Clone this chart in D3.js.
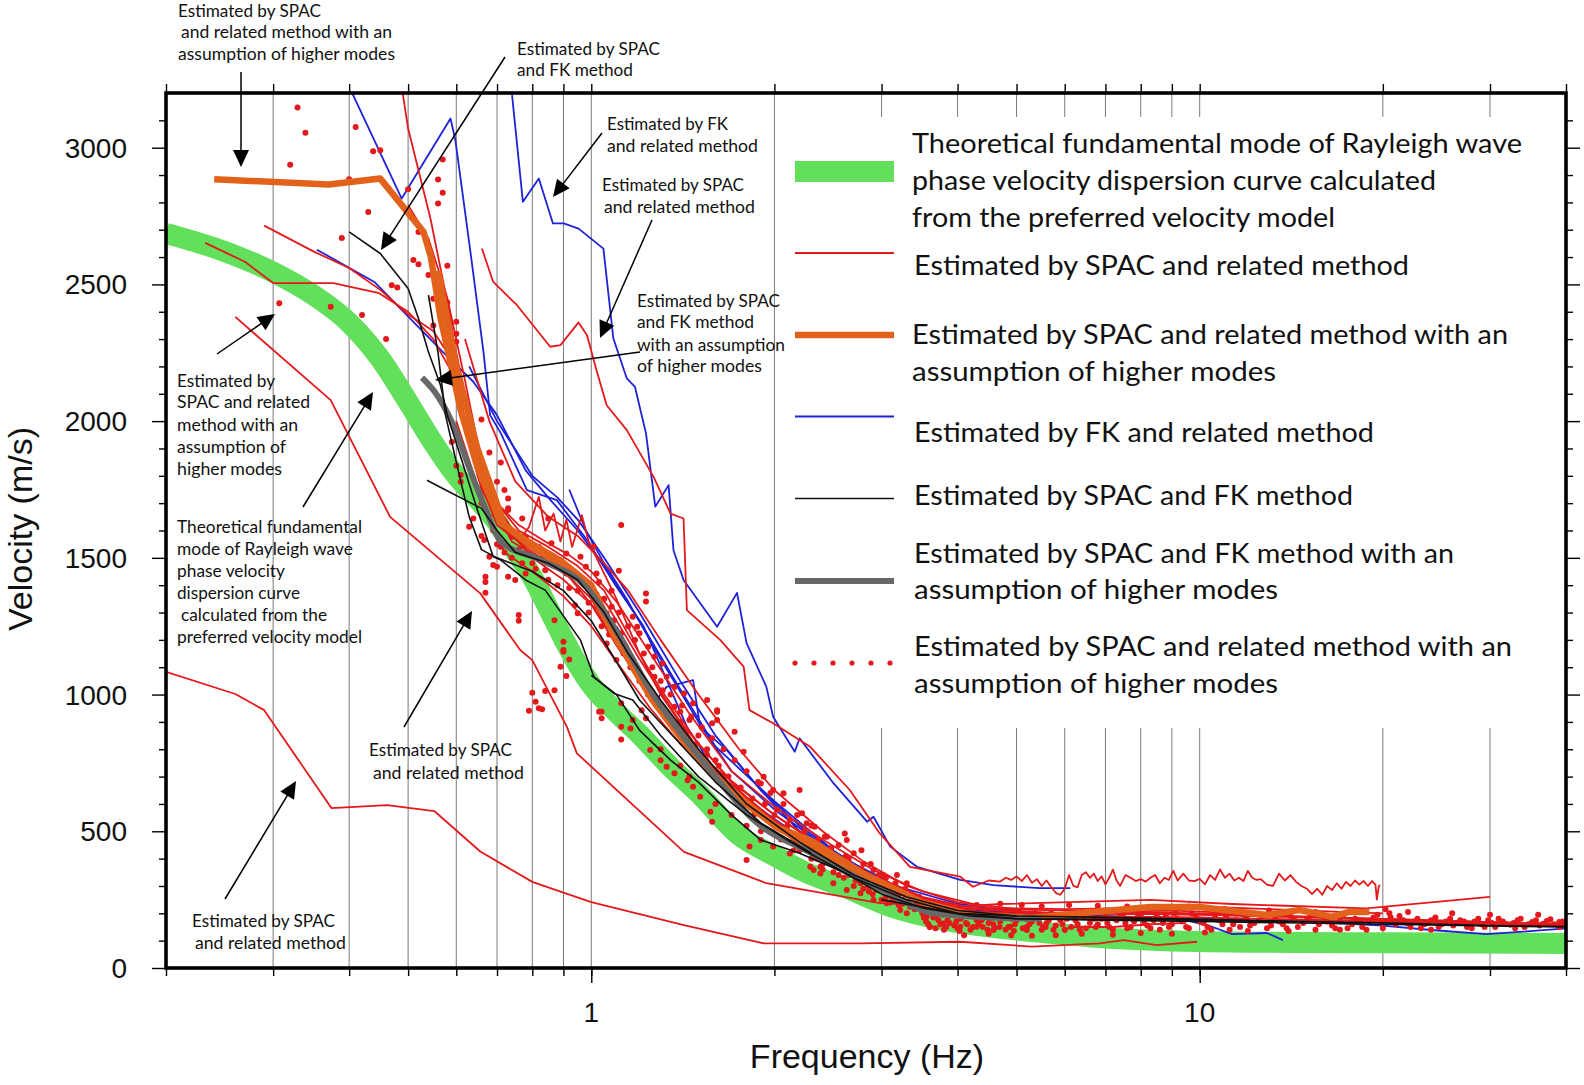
<!DOCTYPE html>
<html><head><meta charset="utf-8">
<script src="https://cdn.jsdelivr.net/npm/d3@7"></script>
<style>body{margin:0;background:#fff}svg{display:block}</style>
</head><body><svg id="c" width="1584" height="1085"></svg>
<script>
// ---------------- DATA ----------------
const freqDomain = [0.2, 40];
const velDomain = [0, 3200];
const freqTicks = [0.2,0.3,0.4,0.5,0.6,0.7,0.8,0.9,1,2,3,4,5,6,7,8,9,10,20,30,40];
const freqDecades = [1, 10];
const freqGrid = [0.3,0.4,0.5,0.6,0.7,0.8,0.9,1,2,3,4,5,6,7,8,9,10,20,30];
const velMajor = [0,500,1000,1500,2000,2500,3000];
const velMinor = [100,200,300,400,600,700,800,900,1100,1200,1300,1400,1600,1700,1800,1900,2100,2200,2300,2400,2600,2700,2800,2900,3100];

// theoretical fundamental mode (green band)
const theoretical = [[0.2,2687],[0.25,2620],[0.3,2545],[0.35,2460],[0.4,2360],[0.45,2228],[0.5,2070],[0.55,1920],[0.6,1800],[0.65,1715],[0.7,1630],[0.75,1525],[0.8,1430],[0.85,1315],[0.9,1205],[0.95,1110],[1.0,1035],[1.1,935],[1.2,855],[1.35,735],[1.5,640],[1.75,485],[2.0,410],[2.25,350],[2.6,296],[3.1,225],[3.8,175],[4.6,148],[5.75,126],[7,110],[10,97],[15,93],[20,92],[40,90]];

// SPAC & related (red thin)
const spac1 = [[0.2,1083],[0.26,1002],[0.29,943],[0.374,585],[0.462,596],[0.552,574],[0.657,426],[0.8,315],[0.89,279],[1.0,241],[1.42,157],[1.92,90],[2.77,90],[4.04,96],[5.3,78],[6.85,90],[7.5,102],[8.5,84],[9.9,96]];
const spac2 = [[0.26,2381],[0.373,2077],[0.467,1650],[0.657,1370],[0.764,1163],[0.8,1126],[0.912,882],[0.947,785],[1.42,425],[1.94,310],[2.98,237],[4.04,224],[4.7,234],[8.3,249],[11.3,234],[18.8,218],[30,260]];
const spac3 = [[0.29,2715],[0.35,2620],[0.4,2560],[0.45,2480],[0.5,2390],[0.55,2330],[0.6,2200],[0.65,1900],[0.7,1650],[0.8,1500],[0.9,1420],[1.0,1330],[1.2,1050],[1.5,780],[2,560],[2.5,420],[3,300],[4,220],[6,210],[10,200],[20,180],[40,160]];
const spac4 = [[0.232,2652],[0.27,2582],[0.3,2505],[0.377,2505],[0.448,2468],[0.5,2400],[0.55,2300],[0.6,2150],[0.65,1800],[0.7,1620],[0.8,1520],[0.9,1450],[1.0,1350],[1.1,1180],[1.3,950],[1.6,700],[2,540],[2.5,400],[3,290],[4,210],[6,190],[10,185],[20,170],[40,155]];
const spac5 = [[0.49,3198],[0.50,3070],[0.544,2742],[0.587,2377],[0.617,2022],[0.66,1750],[0.72,1600],[0.8,1530],[0.9,1460],[1.0,1380],[1.15,1150],[1.3,950],[1.6,720],[2,540],[2.5,400],[3,300],[4,220],[6,200],[10,195],[20,180],[40,160]];
const spac6 = [[0.661,2631],[0.69,2509],[0.755,2424],[0.856,2272],[0.89,2278],[0.953,2361],[0.984,2314],[1.022,2180],[1.06,2058],[1.144,1967],[1.266,1796],[1.35,1662],[1.418,1644],[1.436,1309],[1.63,1199],[1.78,1102],[1.82,943],[1.99,895],[2.29,809],[2.66,651],[2.98,492],[3.34,370],[4.04,334],[4.24,297],[4.5,320],[4.7,316],[4.8,330],[4.9,322],[5.0,335],[5.1,318],[5.2,340],[5.3,312],[5.4,325],[5.5,300],[5.6,320],[5.7,296],[5.8,275],[5.9,268],[6.0,290],[6.1,340],[6.2,300],[6.3,295],[6.4,340],[6.5,350],[6.6,330],[6.7,345],[6.8,318],[6.9,335],[7.0,306],[7.1,330],[7.2,360],[7.3,320],[7.4,300],[7.55,340],[7.7,330],[7.85,318],[8.0,325],[8.15,316],[8.3,330],[8.45,340],[8.6,310],[8.75,330],[8.9,322],[9.05,355],[9.2,320],[9.4,345],[9.6,320],[9.8,318],[10.0,326],[10.2,306],[10.4,340],[10.6,322],[10.8,360],[11.0,330],[11.2,345],[11.4,320],[11.6,330],[11.8,318],[12.0,355],[12.2,330],[12.4,322],[12.6,325],[12.9,305],[13.2,300],[13.5,345],[13.8,320],[14.1,340],[14.4,315],[14.7,300],[15.0,290],[15.3,270],[15.6,290],[15.9,268],[16.2,300],[16.5,285],[16.8,310],[17.1,290],[17.4,315],[17.7,300],[18.0,320],[18.3,305],[18.6,318],[18.9,300],[19.2,318],[19.45,305],[19.55,250],[19.7,300],[19.8,303]];
const spac7 = [[0.72,1650],[0.76,1560],[0.79,1613],[0.82,1723],[0.84,1600],[0.867,1662],[0.89,1560],[0.91,1640],[0.93,1540],[0.965,1656],[0.99,1560],[1.02,1500],[1.1,1350],[1.2,1150],[1.3,1000],[1.5,800],[1.8,600],[2.2,450],[2.7,340],[3.2,270],[4,230]];
const spac8 = [[0.5,2790],[0.54,2668],[0.58,2450],[0.62,2150],[0.66,1850],[0.7,1700],[0.76,1600],[0.85,1540],[0.95,1470],[1.05,1380],[1.15,1220],[1.3,1020],[1.5,820],[1.8,620],[2.2,470],[2.7,350],[3.3,260],[4,210],[5,195],[7,200],[10,195],[15,185],[20,175],[30,165],[40,160]];
const spac9 = [[0.55,2500],[0.6,2250],[0.64,1950],[0.68,1720],[0.74,1560],[0.82,1500],[0.92,1430],[1.0,1330],[1.1,1180],[1.25,1000],[1.45,820],[1.7,640],[2.0,520],[2.5,390],[3,300],[3.6,230],[4.5,200],[6,185],[8,180]];
const spac10 = [[0.62,2300],[0.68,2000],[0.75,1780],[0.85,1650],[0.95,1580],[1.05,1480],[1.15,1380],[1.3,1200],[1.5,1000],[1.75,800],[2.0,650],[2.4,500],[2.8,390],[3.3,300],[4,240],[5,215]];
const spac11 = [[0.6,2000],[0.66,1720],[0.72,1520],[0.8,1450],[0.9,1360],[1.0,1250],[1.1,1120],[1.25,950],[1.4,820],[1.7,650],[2.0,530],[2.5,400],[3,310],[3.5,250],[4,210]];
const spac12 = [[6.0,128],[6.1,150],[7.2,150],[8.3,160],[9.5,165]];
const spac13 = [[0.58,2300],[0.62,2050],[0.66,1800],[0.7,1640],[0.78,1560],[0.86,1500],[0.96,1440],[1.06,1330],[1.2,1130],[1.4,900],[1.7,680],[2.0,560],[2.4,440],[2.9,340],[3.5,260],[4.3,215],[5.5,200],[7,205],[9,210],[12,200]];
const spac14 = [[0.64,1900],[0.7,1700],[0.76,1620],[0.84,1560],[0.92,1510],[1.0,1450],[1.1,1340],[1.25,1150],[1.45,930],[1.7,720],[2.0,590],[2.4,470],[2.9,360],[3.5,280],[4.5,220],[6,215],[8,220],[10,225],[13,215],[17,205],[20,200]];

// SPAC with higher modes (orange thick)
const spacHigh1 = [[0.24,2885],[0.37,2865],[0.45,2887],[0.53,2692],[0.545,2600],[0.565,2380],[0.59,2190],[0.61,2040],[0.65,1830],[0.71,1630],[0.78,1565],[0.89,1490],[1.0,1400],[1.06,1285],[1.17,1100],[1.26,980],[1.45,800],[1.7,640],[2.02,515],[2.3,465],[2.8,345],[3.5,240],[4.2,195],[5.3,183],[6.4,201],[8.3,223],[10,223],[12.9,194],[14.6,212],[16.5,187],[17.6,205],[19,205]];
const spacHigh2 = [[0.56,2550],[0.6,2200],[0.65,1900],[0.72,1620],[0.8,1540],[0.9,1470],[1.0,1380],[1.1,1200],[1.3,960],[1.6,700],[2,520],[2.5,400],[3,300]];

// FK & related (blue)
const fk1 = [[0.741,3192],[0.772,2802],[0.82,2887],[0.865,2723],[0.901,2723],[0.953,2704],[1.047,2631],[1.087,2303],[1.144,2156],[1.18,2125],[1.21,2022],[1.23,1956],[1.274,1687],[1.34,1766],[1.365,1528],[1.418,1419],[1.61,1248],[1.736,1372],[1.80,1188],[1.94,1028],[1.99,919],[2.16,791],[2.2,840],[2.49,681],[2.84,535],[2.91,553],[3.10,444],[3.43,370],[4.04,322],[4.58,303],[5.46,292],[5.89,292],[6.13,292]];
const fk2 = [[0.405,3198],[0.488,2814],[0.587,3107],[0.598,3027],[0.633,2619],[0.665,2253],[0.682,2022],[0.71,1956],[0.784,1748],[0.878,1711],[0.984,1565],[1.10,1394],[1.22,1248],[1.436,882],[1.6,720],[1.9,580],[2.3,450],[2.8,330],[3.4,250],[4,215],[5,200]];
const fk3 = [[0.354,2627],[0.44,2509],[0.57,2253],[0.64,2144],[0.7,2022],[0.78,1820],[0.85,1720],[0.95,1600],[1.05,1470],[1.2,1270],[1.4,1020],[1.6,810],[2,610],[2.5,430],[3,315],[4,235],[5,205],[7,190],[10,178],[14,170]];
const fk4 = [[0.63,2200],[0.7,2000],[0.8,1800],[0.88,1720],[0.95,1640],[1.05,1500],[1.2,1300],[1.4,1050],[1.6,850],[1.9,650],[2.2,520],[2.6,400],[3.1,290],[3.7,230],[4.5,200],[6,190],[8,185],[12,180]];
const fk5 = [[0.92,1750],[0.98,1600],[1.05,1480],[1.15,1340],[1.3,1130],[1.5,900],[1.7,720],[2,580],[2.4,450],[2.9,340]];
const fk6 = [[1.1,1250],[1.2,1100],[1.266,968],[1.33,1028],[1.47,1053],[1.51,882],[1.67,797],[1.9,650],[2.2,500],[2.6,400],[3,330],[3.3,270],[3.6,230],[4,200],[5,185]];
const fk7 = [[4.5,210],[6,195],[8,185],[9.5,175],[10.5,150],[11.3,124],[12.9,128],[13.7,102]];
const fk8 = [[10,175],[15,170],[20,155],[24,139],[29.6,124],[33.6,132],[40,145]];

// SPAC & FK (black thin)
const sf1 = [[0.40,2692],[0.45,2613],[0.50,2485],[0.52,2375],[0.54,2253],[0.565,2132],[0.58,2022],[0.61,1870],[0.65,1675],[0.69,1504],[0.71,1492],[0.78,1419],[0.84,1382],[0.96,1199],[1.01,1065],[1.09,1004],[1.17,980],[1.3,850],[1.5,700],[1.8,560],[2.2,440],[2.7,330],[3.3,250],[4,200],[5,180],[7,175],[10,170],[20,160],[40,150]];
const sf2 = [[0.537,1784],[0.59,1736],[0.66,1681],[0.7,1600],[0.75,1520],[0.85,1480],[0.95,1420],[1.05,1300],[1.15,1150],[1.3,980],[1.5,800],[1.8,600],[2.2,460],[2.7,340],[3.3,260],[4,210],[5,190]];
const sf3 = [[0.54,2461],[0.56,2250],[0.576,2022],[0.6,1850],[0.63,1650],[0.66,1530],[0.7,1500],[0.8,1450],[0.9,1380],[1.0,1270],[1.1,1120],[1.2,980],[1.4,820],[1.6,680],[1.9,530],[2.3,420]];
const sf4 = [[1.0,1070],[1.1,1000],[1.2,870],[1.35,760],[1.5,680],[1.7,560],[1.9,468],[2.2,420],[2.6,350],[3,270],[3.5,220],[4.2,190],[5,180],[7,178],[10,175],[15,168]];
const sf5 = [[3,250],[4,200],[5,190],[7,185],[10,178],[15,170],[20,165],[30,155],[40,152]];

// SPAC & FK with higher modes (gray thick)
const sfHigh = [[0.527,2159],[0.56,2090],[0.6,1960],[0.63,1830],[0.67,1680],[0.71,1560],[0.83,1490],[0.98,1394],[1.09,1247],[1.26,1005],[1.38,880],[1.6,700],[1.85,541],[2.3,420],[3,285],[3.66,200],[4.5,185],[5.5,180]];

// SPAC with higher modes (red dots)
const dotsHigh = [[0.329,3147],[0.339,3055],[0.32,2938],[0.41,3076],[0.438,2987],[0.45,2991],[0.40,2885],[0.50,2848],[0.57,2957],[0.56,2884],[0.57,2835],[0.56,2796],[0.43,2765],[0.389,2670],[0.51,2589],[0.52,2574],[0.47,2497],[0.48,2489],[0.42,2388],[0.46,2300],[0.54,2534],[0.58,2568],[0.58,2434],[0.55,2448],[0.60,2363],[0.60,2320],[0.60,2290],[0.55,2350],[0.52,2692],[0.373,2418],[0.307,2431],
[0.66,2006],[0.68,1885],[0.71,1849],[0.60,1837],[0.61,1803],[0.61,1778],[0.73,1717],[0.73,1681],[0.64,1644],[0.63,1614],[0.667,1565],[0.69,1474],[0.67,1431],[0.67,1372],[0.73,1431],[0.76,1291],
[0.59,1924],[0.70,1778],[0.66,1580],[0.72,1748],[0.73,1675],[0.77,1644],[0.85,1644],[0.86,1553],[0.91,1516],[0.67,1412],[0.76,1270],[1.12,1620],[1.11,1453],[1.23,1370],[1.23,1340],[0.87,1272],[0.90,1193],[0.90,1157],[0.92,1128],[0.89,1102],[0.91,1068],[0.87,1016],[0.84,1013],[0.80,1007],[0.81,974],[0.79,941],[0.82,950],[0.83,946],[1.04,937],[1.04,913],[1.12,968],[0.94,1327],[0.95,1297],[0.99,1336],[1.02,1367],[1.08,1321],[1.09,1272],[1.17,1285],[1.19,1248],[1.20,1224],[1.24,1175],[1.27,1138],[1.31,1114],[1.33,1065],[1.37,1028],[1.42,1004],[1.47,968],[1.55,980],[1.61,937],[1.61,907],[1.58,895],[1.45,907],[1.40,937],[1.37,955],[1.23,913],[1.17,907],[1.16,876],[1.02,1443],[1.03,1412],[1.01,1541],[0.98,1467],[0.96,1504],[0.94,1431],[0.91,1443],[0.88,1467],[0.84,1455],[0.80,1480],[0.78,1443],[0.75,1419],[0.70,1467],[0.68,1504],[0.82,1541],[0.78,1577],[0.74,1577],[0.71,1541],[1.06,1297],[1.12,1224],[1.14,1175],[1.17,1126],[1.27,1065],[1.31,1016],[1.20,1077],[1.10,1126],[1.06,1187],
[0.90,1163],[1.03,937],[1.12,882],[1.12,836],[1.21,943],[1.25,797],[1.30,760],[1.33,736],[1.37,712],[1.44,687],[1.47,663],[1.51,626],[1.57,571],[1.58,535],[1.61,943],[1.72,864],[1.78,791],[1.92,699],[1.90,675],[1.99,651],[2.07,639],[2.20,651],[2.22,566],[2.26,529],[2.33,517],[2.44,480],[2.61,492],[2.63,468],[2.78,431],[2.91,358],[3.18,340],[3.30,310],[3.14,273],[2.94,285],[2.77,310],[2.66,358],[2.44,407],[2.38,370],[2.32,358],[2.20,431],[2.12,419],[1.99,444],[1.90,468],[1.82,444],[1.80,395],[3.34,224],[3.56,188],[3.79,163],[4.04,151],[4.30,151],[4.58,139],[4.88,151],[5.2,139],[5.53,151],[3.6,151],[3.30,200],[3.22,212],[3.06,237],[2.91,249],[2.77,273],[2.63,285],[2.50,310],[2.38,346],[2.29,370],
[2.0,560],[2.1,520],[2.15,480],[2.25,460],[2.35,430],[2.45,400],[2.55,380],[2.65,340],[2.75,330],[2.85,300],[2.95,290],[3.05,260],[3.15,250],[3.25,235],[3.4,215],[1.7,640],[1.75,600],[1.85,560],[1.95,540],[1.65,700],[1.6,760],[1.55,800],[1.5,850],[1.4,900]];

const dotsCluster = [[0.66,1700],[0.68,1650],[0.69,1600],[0.70,1550],[0.72,1520],[0.74,1500],[0.76,1530],[0.77,1480],[0.79,1510],[0.81,1460],[0.83,1500],[0.85,1420],[0.87,1480],[0.88,1400],[0.9,1470],[0.92,1390],[0.93,1450],[0.95,1380],[0.97,1420],[0.99,1300],[1.0,1400],[1.02,1320],[1.04,1250],[1.05,1350],[1.07,1220],[1.08,1380],[1.1,1200],[1.11,1300],[1.13,1150],[1.15,1250],[1.16,1100],[1.18,1200],[1.2,1050],[1.22,1150],[1.24,1000],[1.26,1100],[1.28,980],[1.3,1050],[1.32,920],[1.35,1000],[1.38,900],[1.41,960],[1.43,860],[1.46,920],[1.49,820],[1.52,880],[1.55,780],[1.58,840],[1.62,740],[1.65,800],[1.68,700],[1.72,760],[1.76,660],[1.8,720],[1.84,620],[1.88,680],[1.93,600],[1.97,640],[2.02,580],[2.07,600],[2.12,540],[2.18,560],[2.24,500],[2.3,520],[2.36,470],[2.42,480],[2.48,440],[2.55,450],[2.62,410],[2.7,420],[2.8,380],[2.88,380],[2.97,340],[3.05,330],[3.12,300],[3.2,290],[3.3,270],[3.4,250],[3.45,230],
[1.3,800],[1.4,740],[1.45,700],[1.6,600],[1.7,560],[1.8,520],[1.9,500],[2.05,470],[2.15,430],[2.3,400],[2.4,380],[2.5,350],[2.6,330],[2.7,300],[2.8,290],[2.9,270],[3.0,250],[3.1,240],[3.2,230],
[2.3,430],[2.35,400],[2.4,360],[2.45,420],[2.5,390],[2.55,340],[2.6,370],[2.65,400],[2.7,350],[2.72,320],[2.78,360],[2.82,330],[2.86,280],[2.9,320],[2.95,310],[3.0,290],[3.02,340],[3.08,280],[3.12,260],[3.16,310],[3.2,270],[3.25,250],[3.28,290],[3.32,240],[3.36,270],[3.42,230],[3.46,260],[3.5,220],[3.55,240],[3.6,210],[3.65,230],[3.7,190],[3.75,220],[3.8,200]];

const dotsFlat = [[3.5,200],[3.55,170],[3.6,150],[3.65,185],[3.7,205],[3.75,160],[3.8,140],[3.85,175],[3.9,195],[3.95,155],[4.0,145],[4.05,180],[4.1,200],[4.15,160],[4.2,140],[4.3,175],[4.35,195],[4.4,150],[4.5,165],[4.55,190],[4.6,145],[4.7,170],[4.8,200],[4.85,150],[4.95,135],[5.0,175],[5.1,195],[5.2,150],[5.3,170],[5.4,185],[5.5,140],[5.6,165],[5.7,200],[5.8,155],[5.9,175],[6.0,140],[6.2,190],[6.3,160],[6.4,205],[6.5,145],[6.7,180],[6.8,160],[7.0,195],[7.1,150],[7.3,175],[7.5,200],[7.6,145],[7.8,170],[8.0,190],[8.2,155],[8.4,175],[8.6,140],[8.8,195],[9.0,160],[9.2,180],[9.5,150],[9.7,200],[10,170],[10.3,150],[10.6,185],[10.9,160],[11.2,140],[11.5,175],[11.8,195],[12.1,155],[12.5,175],[12.9,145],[13.3,180],[13.7,160],[14.1,190],[14.5,150],[15,175],[15.5,140],[16,185],[16.5,155],[17,175],[17.5,145],[18,180],[18.5,150],[19,170],[19.6,195],[20.2,215],[20.6,185],[21,160],[21.6,175],[22.2,150],[22.8,180],[23.4,160],[24,175],[24.7,150],[25.4,170],[26.1,155],[26.8,175],[27.5,150],[28.3,170],[29,160],[29.8,175],[30.6,150],[31.5,170],[32.4,158],[33.3,175],[34.2,150],[35.2,168],[36.2,155],[37.2,172],[38.2,160],[39,168],
[3.52,185],[3.58,160],[3.63,210],[3.68,145],[3.72,175],[3.78,195],[3.83,150],[3.88,165],[3.93,210],[3.98,170],[4.03,135],[4.08,190],[4.13,165],[4.18,205],[4.24,150],[4.28,185],[4.33,160],[4.38,175],[4.43,200],[4.48,140],[4.53,180],[4.58,160],[4.64,195],[4.69,150],[4.75,185],[4.8,140],[4.9,180],[4.97,160],[5.05,205],[5.12,145],[5.18,180],[5.25,160],[5.35,200],[5.45,165],[5.52,190],[5.58,150],[5.65,175],[5.75,140],[5.85,190],[5.95,160],[6.05,180],[6.15,150],[6.25,175],[6.35,140],[6.45,190],[6.6,165],[6.75,150],[6.9,180],[7.05,165],[7.2,140],[7.4,190],[7.55,165],[7.7,150],[7.9,185],[8.1,165],[8.3,145],[8.5,190],[8.7,165],[8.9,150],[9.1,200],[9.35,170],[9.6,145],[9.85,185],[10.15,165],[10.45,140],[10.75,175],[11.05,190],[11.35,160],[11.65,150],[11.95,180],[12.3,165],[12.7,190],[13.1,155],[13.5,170],[13.9,145],[14.3,175],[14.8,165],[15.2,190],[15.7,160],[16.2,170],[16.7,145],[17.2,190],[17.8,160],[18.3,175],[18.8,140],[19.3,185],[19.9,165],[20.5,200],[21.3,190],[21.9,165],[22.5,170],[23.1,145],[23.7,165],[24.4,185],[25,160],[25.8,180],[26.5,165],[27.2,170],[27.9,160],[28.7,180],[29.4,150],[30.2,165],[31,180],[31.9,160],[32.8,165],[33.7,180],[34.7,160],[35.7,175],[36.7,162],[37.7,178],[38.7,158],[39.5,170],
[3.9,225],[4.1,120],[4.3,230],[4.5,125],[4.7,235],[4.9,120],[5.1,230],[5.3,118],[5.5,225],[5.8,120],[6.1,230],[6.4,125],[6.8,228],[7.2,122],[7.6,225],[8.0,128],[8.5,222],[9.0,125],[9.6,225],[10.2,130],[11,215],[12,135],[13,210],[14,135],[15.5,205],[17,140],[18.5,205],[20,145],[22,205],[24,140],[26,200],[28,145],[30,195],[33,145],[36,195],[39,150]];

// texts
const legendTexts = [
  ["Theoretical fundamental mode of Rayleigh wave","phase velocity dispersion curve calculated","from the preferred velocity model"],
  ["Estimated by SPAC and related method"],
  ["Estimated by SPAC and related method with an","assumption of higher modes"],
  ["Estimated by FK and related method"],
  ["Estimated by SPAC and FK method"],
  ["Estimated by SPAC and FK method with an","assumption of higher modes"],
  ["Estimated by SPAC and related method with an","assumption of higher modes"]
];
const noteTexts = {
  A:["Estimated by SPAC","and related method with an","assumption of higher modes"],
  B:["Estimated by SPAC","and FK method"],
  C:["Estimated by FK","and related method"],
  D:["Estimated by SPAC","and related method"],
  E:["Estimated by SPAC","and FK method","with an assumption","of higher modes"],
  F:["Estimated by","SPAC  and related","method with an","assumption of","higher modes"],
  G:["Theoretical fundamental","mode of Rayleigh wave","phase velocity","dispersion curve","calculated from the","preferred velocity model"],
  H:["Estimated by SPAC","and related method"],
  I:["Estimated by SPAC","and related method"]
};
const xTitle = "Frequency (Hz)";
const yTitle = "Velocity (m/s)";

// ---------------- LAYOUT ----------------
const L = 166, R = 1566, T = 93, B = 968;
const RED = "#e3191c", ORANGE = "#e2621b", BLUE = "#1f22d6", BLACK = "#111", GRAY = "#686868", GREEN = "#63e05b";
const svg = d3.select("#c");
const x = d3.scaleLog().domain(freqDomain).range([L, R]);
const y = d3.scaleLinear().domain(velDomain).range([B, T]);
const line = d3.line().x(d => x(d[0])).y(d => y(d[1]));
const smooth = d3.line().x(d => x(d[0])).y(d => y(d[1])).curve(d3.curveMonotoneX);

svg.append("defs").append("clipPath").attr("id","clip").append("rect")
  .attr("x",L).attr("y",T).attr("width",R-L).attr("height",B-T);

svg.append("g").selectAll("line").data(freqGrid).join("line")
  .attr("x1",d=>x(d)).attr("x2",d=>x(d)).attr("y1",T).attr("y2",B)
  .attr("stroke","#7a7a7a").attr("stroke-width",1);

svg.append("rect").attr("x",778).attr("y",117).attr("width",R-2-778).attr("height",728-117).attr("fill","#fff");

const plot = svg.append("g").attr("clip-path","url(#clip)");
plot.append("path").datum(theoretical).attr("d",smooth).attr("fill","none")
  .attr("stroke",GREEN).attr("stroke-width",21).attr("stroke-linecap","butt");

const thinRed = [spac1,spac2,spac3,spac4,spac5,spac6,spac7,spac8,spac9,spac10,spac11,spac12,spac13,spac14];
const blues = [fk1,fk2,fk3,fk4,fk5,fk6,fk7,fk8];
const blacks = [sf1,sf2,sf3,sf4,sf5];

plot.append("g").selectAll("path").data(blues).join("path").attr("d",line)
  .attr("fill","none").attr("stroke",BLUE).attr("stroke-width",1.8).attr("stroke-linejoin","round");
plot.append("g").selectAll("path").data(thinRed).join("path").attr("d",line)
  .attr("fill","none").attr("stroke",RED).attr("stroke-width",1.8).attr("stroke-linejoin","round");
plot.append("g").selectAll("circle").data(dotsHigh.concat(dotsCluster, dotsFlat)).join("circle")
  .attr("cx",d=>x(d[0])).attr("cy",d=>y(d[1])).attr("r",3).attr("fill",RED);
plot.append("g").selectAll("path").data([spacHigh1,spacHigh2]).join("path").attr("d",line)
  .attr("fill","none").attr("stroke",ORANGE).attr("stroke-width",6.5).attr("stroke-linejoin","round");
plot.append("path").datum(sfHigh).attr("d",smooth)
  .attr("fill","none").attr("stroke",GRAY).attr("stroke-width",6).attr("stroke-linejoin","round");
plot.append("g").selectAll("path").data(blacks).join("path").attr("d",line)
  .attr("fill","none").attr("stroke",BLACK).attr("stroke-width",1.6).attr("stroke-linejoin","round");

// ---------- legend ----------
const lg = svg.append("g");
const LFONT = "Lato, 'Open Sans', sans-serif";
lg.append("rect").attr("x",795).attr("y",161).attr("width",99).attr("height",21).attr("fill",GREEN);
const lineSw = [[253,RED,2],[335,ORANGE,6.5],[416.5,BLUE,2],[498.5,BLACK,1.6],[581,GRAY,6]];
lineSw.forEach(s=>lg.append("line").attr("x1",795).attr("x2",894).attr("y1",s[0]).attr("y2",s[0]).attr("stroke",s[1]).attr("stroke-width",s[2]));
[795,814,833,852,871,890].forEach(cx=>lg.append("circle").attr("cx",cx).attr("cy",663).attr("r",2.6).attr("fill",RED));
const legLayout = [
  {x:912, ys:[153,190,227], w:[610,524,423]},
  {x:914, ys:[275], w:[495]},
  {x:912, ys:[344,381], w:[596,364]},
  {x:914, ys:[442], w:[460]},
  {x:914, ys:[505], w:[439]},
  {x:914, ys:[563,599], w:[540,364]},
  {x:914, ys:[656,693], w:[598,364]}
];
legendTexts.forEach((lines,i)=>{
  const lay = legLayout[i];
  lines.forEach((t,j)=>lg.append("text").attr("x",lay.x).attr("y",lay.ys[j]).text(t)
    .attr("font-family",LFONT).attr("font-size",26).attr("fill","#111")
    .attr("textLength",lay.w[j]).attr("lengthAdjust","spacingAndGlyphs"));
});

// ---------- frame & axes ----------
const axL = d3.axisLeft(y).tickValues(velMinor).tickSize(7).tickFormat("");
const axLM = d3.axisLeft(y).tickValues(velMajor).tickSize(14).tickFormat("");
const axR = d3.axisRight(y).tickValues(velMinor).tickSize(7).tickFormat("");
const axRM = d3.axisRight(y).tickValues(velMajor).tickSize(14).tickFormat("");
const axB = d3.axisBottom(x).tickValues(freqTicks).tickSize(8).tickFormat("");
const axBM = d3.axisBottom(x).tickValues(freqDecades).tickSize(15).tickFormat("");
const axT = d3.axisTop(x).tickValues(freqTicks).tickSize(9).tickFormat("");
[[axL,`translate(${L},0)`],[axLM,`translate(${L},0)`],[axR,`translate(${R},0)`],[axRM,`translate(${R},0)`],
 [axB,`translate(0,${B})`],[axBM,`translate(0,${B})`],[axT,`translate(0,${T})`]].forEach(([a,tr])=>{
  const g = svg.append("g").attr("transform",tr).call(a);
  g.select(".domain").remove();
  g.selectAll(".tick line").attr("stroke","#000").attr("stroke-width",1.4);
});
svg.append("rect").attr("x",L).attr("y",T).attr("width",R-L).attr("height",B-T)
  .attr("fill","none").attr("stroke","#000").attr("stroke-width",3.6);

const AFONT = "'Liberation Sans', Arial, Helvetica, sans-serif";
svg.append("g").selectAll("text").data(velMajor).join("text")
  .attr("x",127).attr("y",d=>y(d)).attr("dy","0.36em").attr("text-anchor","end")
  .attr("font-family",AFONT).attr("font-size",28).attr("fill","#111").text(d=>d);
svg.append("g").selectAll("text").data(freqDecades).join("text")
  .attr("x",d=>x(d)).attr("y",1022).attr("text-anchor","middle")
  .attr("font-family",AFONT).attr("font-size",28).attr("fill","#111").text(d=>d);
svg.append("text").attr("x",867).attr("y",1068).attr("text-anchor","middle")
  .attr("font-family",AFONT).attr("font-size",34).attr("fill","#111").text(xTitle);
svg.append("text").attr("transform","translate(32,529) rotate(-90)").attr("text-anchor","middle")
  .attr("font-family",AFONT).attr("font-size",34).attr("fill","#111").text(yTitle);

// ---------- annotations ----------
const an = svg.append("g");
const noteLayout = {
  A:{x:[178,181,178], y:[17,38,60], w:[143,211,217], arrow:[241,72,241,167]},
  B:{x:[517,517], y:[55,76], w:[143,116], arrow:[505,57,381,250]},
  C:{x:[607,607], y:[130,152], w:[121,151], arrow:[602,133,553,197]},
  D:{x:[602,604], y:[191,213], w:[142,151], arrow:[652,220,600,338]},
  E:{x:[637,637,637,637], y:[307,328,351,372], w:[143,117,148,125], arrow:[640,352,435,380]},
  F:{x:[177,177,177,177,177], y:[387,408,431,453,475], w:[98,133,121,109,105], arrow:[217,354,275,314]},
  G:{x:[177,177,177,177,181,177], y:[533,555,577,599,621,643], w:[185,176,108,123,146,185], arrow:[303,507,373,392]},
  H:{x:[369,373], y:[756,779], w:[143,151], arrow:[404,727,472,611]},
  I:{x:[192,195], y:[927,949], w:[143,151], arrow:[225,899,296,781]}
};
function arrow(x1,y1,x2,y2){
  const HL=17, HW=8, dx=x2-x1, dy=y2-y1, len=Math.hypot(dx,dy), ux=dx/len, uy=dy/len;
  const bx=x2-ux*HL, by=y2-uy*HL;
  an.append("line").attr("x1",x1).attr("y1",y1).attr("x2",bx+ux*2).attr("y2",by+uy*2).attr("stroke","#000").attr("stroke-width",1.5);
  an.append("polygon").attr("points",`${x2},${y2} ${bx-uy*HW},${by+ux*HW} ${bx+uy*HW},${by-ux*HW}`).attr("fill","#000");
}
Object.keys(noteTexts).forEach(k=>{
  const lay = noteLayout[k];
  noteTexts[k].forEach((t,j)=>an.append("text").attr("x",lay.x[j]).attr("y",lay.y[j]).text(t)
    .attr("font-family",LFONT).attr("font-size",16.5).attr("fill","#111")
    .attr("textLength",lay.w[j]).attr("lengthAdjust","spacingAndGlyphs"));
  arrow(...lay.arrow);
});
</script></body></html>
